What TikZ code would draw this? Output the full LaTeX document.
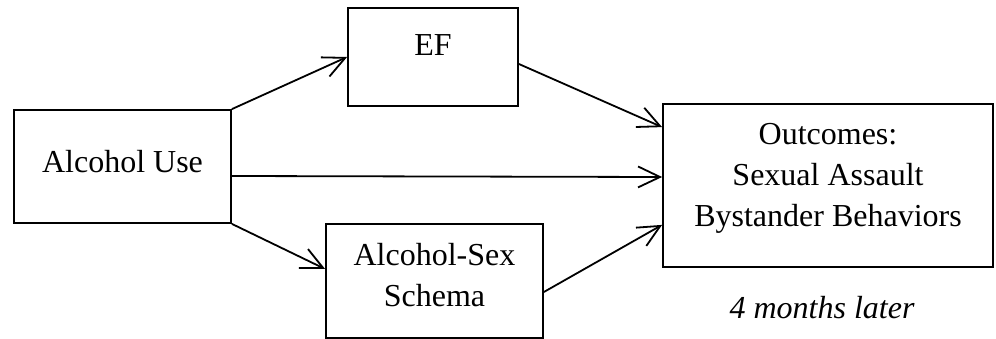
\documentclass[tikz,border=0pt]{standalone}
\usepackage{fontspec}
\setmainfont{Liberation Serif}
\usetikzlibrary{arrows.meta,calc}
\begin{document}
\begin{tikzpicture}[x=1pt,y=-1pt,
    box/.style={draw, line width=1.8pt, inner sep=0pt, align=center, text height=21pt,
                font=\fontsize{32}{41}\selectfont},
    link/.style={line width=1.8pt, -{Straight Barb[length=22pt,width=21pt,line width=1.8pt]}}]
    \useasboundingbox (0,0) rectangle (996,339);
    % Boxes
    \node[box, minimum width=217pt, minimum height=113pt, text depth=8pt] (use) at (122.5,166.5) {Alcohol Use};
    \node[box, minimum width=170pt, minimum height=98pt, text depth=23pt] (ef) at (433,57) {EF};
    \node[box, minimum width=217pt, minimum height=114pt, text height=62pt, text depth=12pt] (schema) at (434.5,281) {Alcohol-Sex\\Schema};
    \node[box, minimum width=330pt, minimum height=163pt, text height=103pt, text depth=20pt] (out) at (828,185.5) {Outcomes:\\Sexual Assault\\Bystander Behaviors};
    \node[anchor=base, font=\fontsize{32}{41}\selectfont\itshape] (later) at (822,318) {4 months later};
    % Paths
    \draw[link] (use.north east) -- (ef.west);
    \draw[link] ($(ef.east)+(0,7)$) -- ($(out.north west)+(0,24)$);
    \draw[link] ($(use.east)+(0,9.5)$) -- ($(out.west)+(0,-8.5)$);
    \draw[link] (use.south east) -- ($(schema.west)+(0,-12)$);
    \draw[link] ($(schema.east)+(0,11)$) -- ($(out.south west)+(0,-43)$);
\end{tikzpicture}
\end{document}
